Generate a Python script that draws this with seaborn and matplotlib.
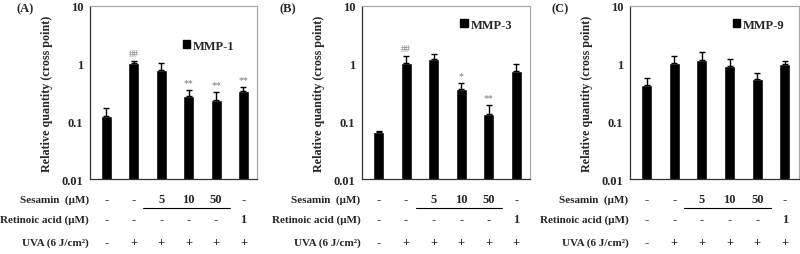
import matplotlib
matplotlib.use('Agg')
import matplotlib.pyplot as plt
from matplotlib.patches import Patch
import numpy as np
import pandas as pd
import seaborn as sns

sns.set_style('white')
plt.rcParams['font.family'] = ['Liberation Serif', 'DejaVu Serif']
plt.rcParams['font.weight'] = 'bold'

# 데이터
groups = ['ctrl', 'UVA', 'S5', 'S10', 'S50', 'RA']
panel_ids = ['(A)', '(B)', '(C)']
genes = ['MMP-1', 'MMP-3', 'MMP-9']

mmp1_mean = [0.123, 1.02, 0.78, 0.27, 0.235, 0.33]
mmp1_sd = [0.047, 0.10, 0.25, 0.08, 0.085, 0.07]
mmp1_mark = ['', '##', '', '**', '**', '**']

mmp3_mean = [0.066, 1.02, 1.22, 0.36, 0.132, 0.75]
mmp3_sd = [0.003, 0.35, 0.27, 0.11, 0.063, 0.25]
mmp3_mark = ['', '##', '', '*', '**', '']

mmp9_mean = [0.43, 1.03, 1.17, 0.90, 0.55, 0.97]
mmp9_sd = [0.14, 0.33, 0.42, 0.29, 0.14, 0.14]
mmp9_mark = ['', '', '', '', '', '']

sesamin_row = ['-', '-', '5', '10', '50', '-']
retinoic_row = ['-', '-', '-', '-', '-', '1']
uva_row = ['-', '+', '+', '+', '+', '+']
row_names = ['Sesamin  (\u03bcM)', 'Retinoic acid (\u03bcM)', 'UVA (6 J/cm\u00b2)']

y_ticks = [0.01, 0.1, 1, 10]
y_ticklabels = ['0.01', '0.1', '1', '10']

means = [mmp1_mean, mmp3_mean, mmp9_mean]
sds = [mmp1_sd, mmp3_sd, mmp9_sd]
marks = [mmp1_mark, mmp3_mark, mmp9_mark]

fig = plt.figure(figsize=(8, 2.55), dpi=100)
lefts = [0.1125, 0.4525, 0.7875]
widths = [0.209, 0.21, 0.211]
letter_x = [0.031, 0.36, 0.70]
fs = 9

for k in range(3):
    ax = fig.add_axes([lefts[k], 0.294, widths[k], 0.679])
    df = pd.DataFrame({'group': groups, 'value': means[k]})
    sns.barplot(data=df, x='group', y='value', color='black', width=0.4,
                saturation=1, ax=ax, errorbar=None)
    ax.set_yscale('log')
    x = np.arange(len(groups))
    m = np.array(means[k])
    s = np.array(sds[k])
    ax.errorbar(x, m, yerr=[np.zeros_like(s), s], fmt='none', ecolor='black',
                elinewidth=1.0, capsize=2, capthick=1.0)
    for i in range(len(groups)):
        if marks[k][i]:
            ax.annotate(marks[k][i], (i, m[i] + s[i]), xytext=(0, 2),
                        textcoords='offset points', ha='center', va='bottom',
                        fontsize=7, color='#777777', fontweight='normal')
    ax.set_ylim(0.01, 10)
    ax.set_xlim(-0.6, 5.5)
    ax.set_yticks(y_ticks)
    ax.set_yticklabels(y_ticklabels, fontsize=fs, fontweight='bold')
    ax.tick_params(axis='y', which='major', direction='inout', length=4, width=0.8, pad=3)
    ax.tick_params(axis='y', which='minor', direction='in', length=2, width=0.5)
    ax.tick_params(axis='x', bottom=False, labelbottom=False)
    ax.set_xlabel('')
    ax.set_ylabel('Relative quantity (cross point)', fontsize=8.7, fontweight='bold', labelpad=6)
    ax.spines['left'].set_color('#333333')
    ax.spines['bottom'].set_color('#333333')
    ax.spines['top'].set_color('#aaaaaa')
    ax.spines['right'].set_color('#aaaaaa')
    for sp in ax.spines.values():
        sp.set_linewidth(0.9)

    ax.legend(handles=[Patch(color='black')], labels=[genes[k]], frameon=False,
              loc='upper right', bbox_to_anchor=(0.96 if k == 1 else (0.98 if k else 0.93),
                                                 0.99 if k else 0.87),
              handlelength=0.6, handleheight=0.6, handletextpad=0.2,
              prop={'size': fs, 'weight': 'bold'})

    # 아래 처리 조건 표
    tr = ax.get_xaxis_transform()
    rows = [sesamin_row, retinoic_row, uva_row]
    row_y = [-0.116, -0.231, -0.364]
    for r in range(3):
        ax.text(-0.65, row_y[r], row_names[r], transform=tr, ha='right', va='center',
                fontsize=8, fontweight='bold', clip_on=False)
        for i in range(len(groups)):
            ax.text(i, row_y[r], rows[r][i], transform=tr, ha='center', va='center',
                    fontsize=fs, fontweight='bold', clip_on=False)
    ax.plot([1.35, 4.5], [-0.168, -0.168], transform=tr, color='black', lw=0.8, clip_on=False)

    fig.text(letter_x[k], 0.965, panel_ids[k], fontsize=fs, fontweight='bold', ha='center', va='center')

fig.savefig('out.png', dpi=100)
